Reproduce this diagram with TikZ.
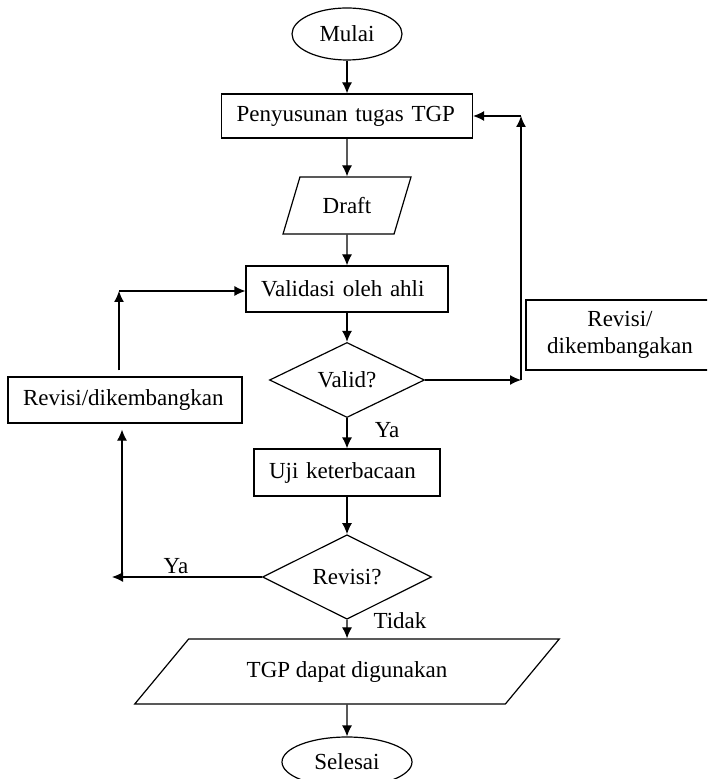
\documentclass[tikz,border=0pt]{standalone}
\usepackage{fontspec}
\setmainfont{Liberation Serif}
\usetikzlibrary{shapes.geometric,arrows.meta}

\begin{document}
\begin{tikzpicture}[x=0.5pt,y=-0.5pt,>={Latex[length=5.5pt,width=5pt]},line width=0.6pt,
    every node/.style={font=\fontsize{11.5}{13.5}\selectfont},
    kotak/.style={draw,rectangle,inner xsep=7.5pt,align=left},
    bulat/.style={draw,ellipse,inner sep=0pt},
    belah/.style={draw,diamond,inner sep=0pt}]
		\clip (0,0) rectangle (707,779);
		\node[bulat, minimum width=55pt, minimum height=26pt] (mulai) at (347,34) {Mulai};
		\node[kotak, text width=110.5pt, minimum height=22pt] (susun) at (347,116) {Penyusunan tugas TGP};
		\node[draw, trapezium, trapezium left angle=62, trapezium right angle=118, trapezium stretches=true,
		      minimum width=64pt, minimum height=28.5pt, inner sep=0pt] (draft) at (347,205.5) {Draft};
		\node[kotak, text width=86pt, minimum height=23pt] (valid) at (347,289) {Validasi oleh ahli};
		\node[draw, align=center, minimum width=94pt, minimum height=35pt, inner sep=0pt] (revkanan) at (620,335) {Revisi/\\dikembangakan};
		\node[belah, minimum width=77.5pt, minimum height=35.5pt] (cekvalid) at (347,380) {Valid?};
		\node[kotak, text width=102pt, minimum height=23pt] (revkiri) at (125,400) {Revisi/dikembangkan};
		\node[kotak, text width=78pt, minimum height=23.5pt] (uji) at (347,472.5) {Uji keterbacaan};
		\node[belah, minimum width=84.5pt, minimum height=36pt] (cekrevisi) at (347,577) {Revisi?};
		\node[draw, trapezium, trapezium left angle=31.5, trapezium right angle=148.5, trapezium stretches=true,
		      minimum width=212.5pt, minimum height=32.5pt, inner sep=0pt] (tgp) at (347,671.5) {TGP dapat digunakan};
		\node[bulat, minimum width=65pt, minimum height=25pt] (selesai) at (347,762) {Selesai};
		\node (ya1) at (387,430) {Ya};
		\node (ya2) at (176,566) {Ya};
		\node (tidak) at (400,621) {Tidak};
		\coordinate (kanan) at (521,380);
		\coordinate (kiri) at (112,577);
		\coordinate (kiriatas) at (119,291);
		\draw[->] (mulai) -- (susun);
		\draw[->] (susun) -- (draft);
		\draw[->] (draft) -- (valid);
		\draw[->] (valid) -- (cekvalid);
		\draw[->] (cekvalid) -- (uji);
		\draw[->] (uji) -- (cekrevisi);
		\draw[->] (cekrevisi) -- (tgp);
		\draw[->] (tgp) -- (selesai);
		\draw[->] (cekvalid) -- (kanan);
		\draw[->] (kanan) -- (kanan |- susun);
		\draw[->] (kanan |- susun) -- (susun);
		\draw[->] (cekrevisi) -- (kiri);
		\draw[->, shorten >=3pt] ([xshift=5pt]kiri) -- ([xshift=5pt]kiri |- revkiri.south);
		\draw[->, shorten <=3pt] (revkiri.north -| kiriatas) -- (kiriatas);
		\draw[->] (kiriatas) -- (kiriatas -| valid.west);
\end{tikzpicture}
\end{document}
